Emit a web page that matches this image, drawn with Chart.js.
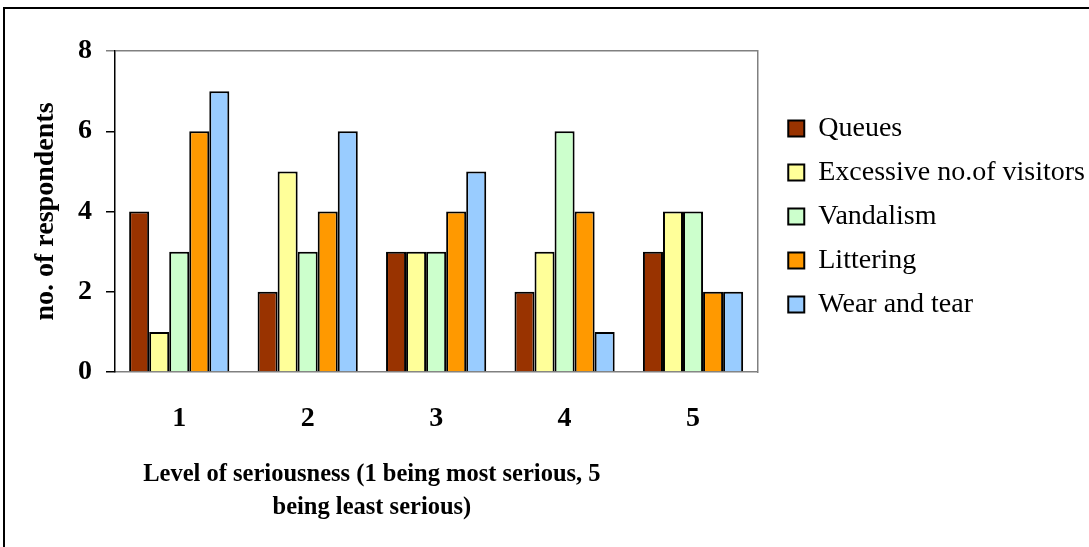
<!DOCTYPE html>
<html>
<head>
<meta charset="utf-8">
<script src="https://cdn.jsdelivr.net/npm/chart.js@4/dist/chart.umd.min.js"></script>
<style>
  body { margin: 0; background: #fff; }
  #wrap { position: relative; width: 1089px; height: 547px; }
  #frame { position: absolute; left: 3px; top: 7px; right: 0; bottom: 0; border-left: 2px solid #000; border-top: 2px solid #000; }
  #chart { position: absolute; left: 0; top: 0; }
</style>
</head>
<body>
<div id="wrap">
  <div id="frame"></div>
  <canvas id="chart" width="1089" height="547"></canvas>
</div>
<script>
// seriousness levels on the x axis
const levels = ['1', '2', '3', '4', '5'];

const queues    = [4, 2, 3, 2, 3];
const excessive = [1, 5, 3, 3, 4];
const vandalism = [3, 3, 3, 6, 4];
const littering = [6, 4, 4, 4, 2];
const wearTear  = [7, 6, 5, 1, 2];

const yTicks = [0, 2, 4, 6, 8];
const yTitle = 'no. of respondents';
const xTitleLines = ['Level of seriousness (1 being most serious, 5', 'being least serious)'];

const serif = "'Liberation Serif', 'Times New Roman', serif";
Chart.defaults.color = '#000';
Chart.defaults.font.family = serif;

function bar(label, data, color) {
    return {
        label: label,
        data: data,
        backgroundColor: color,
        borderColor: '#000',
        borderWidth: 2,
        categoryPercentage: 0.78,
        barPercentage: 1.0
    };
}

// x axis title is drawn a bit left of the plot centre, as in the original
const xTitlePlugin = {
    id: 'xTitle',
    afterDraw(chart) {
        const { ctx, chartArea } = chart;
        const xs = chart.scales.x;
        ctx.save();
        ctx.font = 'bold 24.5px ' + serif;
        ctx.fillStyle = '#000';
        ctx.textAlign = 'center';
        ctx.textBaseline = 'middle';
        const cx = chartArea.left + chartArea.width * 0.4;
        xTitleLines.forEach((line, i) => {
            ctx.fillText(line, cx, xs.top + 103 + i * 33);
        });
        ctx.restore();
    }
};

const chart = new Chart(document.getElementById('chart'), {
    type: 'bar',
    data: {
        labels: levels,
        datasets: [
            bar('Queues', queues, '#993300'),
            bar('Excessive no.of visitors', excessive, '#FFFF99'),
            bar('Vandalism', vandalism, '#CCFFCC'),
            bar('Littering', littering, '#FF9900'),
            bar('Wear and tear', wearTear, '#99CCFF')
        ]
    },
    options: {
        responsive: false,
        animation: false,
        layout: { padding: { left: 0, top: 51, right: -6, bottom: 0 } },
        plugins: {
            tooltip: { enabled: false },
            legend: {
                position: 'right',
                fullSize: false,
                maxWidth: 400,
                // empty spacer title, pushes the items down a little
                title: { display: true, text: ' ', font: { size: 10, lineHeight: 1 }, padding: 0 },
                labels: {
                    boxWidth: 16,
                    boxHeight: 16,
                    padding: 16,
                    font: { size: 28 }
                }
            }
        },
        scales: {
            x: {
                grid: { display: false, drawTicks: false },
                border: { display: true, color: '#808080', width: 1.5 },
                ticks: { padding: 30, font: { size: 28, weight: 'bold' } },
                afterFit(s) { s.height = 175; }
            },
            y: {
                min: 0,
                max: 8,
                afterBuildTicks(s) { s.ticks = yTicks.map(v => ({ value: v })); },
                grid: {
                    lineWidth: 1.5,
                    tickLength: 9,
                    color: c => c.tick && c.tick.value === 8 ? '#808080' : 'rgba(0,0,0,0)',
                    tickColor: c => c.tick && c.tick.value === 8 ? '#808080' : '#000'
                },
                border: { display: true, color: '#000', width: 1.5 },
                ticks: { padding: 14, font: { size: 28, weight: 'bold' } },
                title: {
                    display: true,
                    text: yTitle,
                    font: { size: 28, weight: 'bold' },
                    padding: { top: 29, bottom: 0 }
                },
                afterFit(s) { s.width = 115; }
            },
            // right edge of the plot frame
            yRight: {
                type: 'linear',
                position: 'right',
                grid: { display: true, drawOnChartArea: false, drawTicks: false },
                border: { display: true, color: '#808080', width: 1.5 },
                ticks: { display: false },
                afterFit(s) { s.width = 15; }
            }
        }
    },
    plugins: [xTitlePlugin]
});
</script>
</body>
</html>
